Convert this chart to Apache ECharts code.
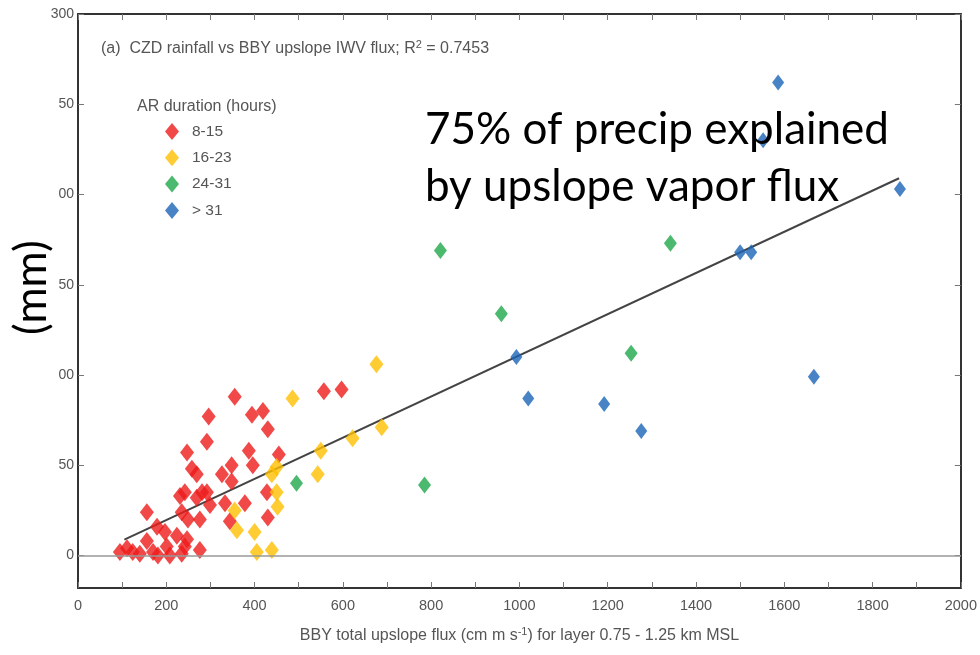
<!DOCTYPE html>
<html><head><meta charset="utf-8">
<script src="https://cdn.jsdelivr.net/npm/echarts@6/dist/echarts.min.js"></script>
<style>html,body{margin:0;padding:0;background:#fff}#c{width:980px;height:655px}</style>
</head><body><div id="c"></div>
<script>
// ---- data (x: BBY upslope flux, y: CZD rainfall mm) ----
const red = [[296,77],[355,88],[394,78],[419,80],[430,70],[292,63],[247,57],[387,58],[455,56],[557,91],[597,92],
  [348,50],[396,50],[258,48],[326,45],[348,41],[292,35],[428,35],[333,29],[378,29],[299,28],[344,19],[430,21],
  [242,35],[281,35],[231,33],[269,32],[156,24],[235,24],[249,20],[276,20],[179,16],[197,13],[224,11],[247,9],
  [156,8],[111,4],[124,2],[140,1],[170,2],[201,5],[181,0],[208,0],[235,1],[242,5],[276,3],[95,2],[269,45]];
const yellow = [[676,106],[486,87],[688,71],[622,65],[550,58],[543,45],[450,49],[439,45],[450,35],[452,27],
  [355,25],[360,14],[400,13],[405,2],[439,3]];
const green = [[821,169],[959,134],[1342,173],[1253,112],[495,40],[785,39]];
const blue = [[1586,262],[1552,230],[1862,203],[1500,168],[1525,168],[993,110],[1020,87],[1192,84],[1276,69],[1667,99]];
const fitLine = [[105,8.8],[1860,209]];
const seriesNames = ['8-15','16-23','24-31','> 31'];
const xTickValues = [0,100,200,300,400,500,600,700,800,900,1000,1100,1200,1300,1400,1500,1600,1700,1800,1900,2000];
const xLabelValues = [0,200,400,600,800,1000,1200,1400,1600,1800,2000];
const yTickValues = [0,50,100,150,200,250,300];
const yTickLabels = ['0','50','00','50','00','50','300'];

const chart = echarts.init(document.getElementById('c'));
const axisCol = '#333';
const lblCol = '#555';
const tickStyle = {show:true, inside:true, length:6, lineStyle:{color:'#777', width:1}};
const colors = ['#ee1a1a','#ffbf00','#1ea84a','#1a64b8'];
const sz = [14,18];
const ff = 'Liberation Sans';
chart.setOption({
  animation:false,
  backgroundColor:'#fff',
  grid:{left:78, right:18, top:14, bottom:67},
  title:[
    {text:'(a)  CZD rainfall vs BBY upslope IWV flux; R{s|2} = 0.7453', left:96, top:34,
     textStyle:{fontFamily:ff, fontSize:16, fontWeight:'normal', color:lblCol,
       rich:{s:{fontFamily:ff, fontSize:11, verticalAlign:'top', padding:[0,0,9,0], color:lblCol}}}},
    {text:'AR duration (hours)', left:132, top:94,
     textStyle:{fontFamily:ff, fontSize:16, fontWeight:'normal', color:lblCol}}
  ],
  legend:{orient:'vertical', left:165, top:123, padding:0, itemGap:9.3, itemWidth:14, itemHeight:17,
    data:seriesNames, textStyle:{fontFamily:ff, fontSize:15.5, color:lblCol, padding:[0,0,0,8]}},
  xAxis:[
    {type:'value', min:0, max:2000, position:'bottom',
     axisLine:{show:true, onZero:false, lineStyle:{color:axisCol, width:2}},
     axisTick:Object.assign({customValues:xTickValues}, tickStyle),
     axisLabel:{customValues:xLabelValues, color:lblCol, fontFamily:ff, fontSize:14.5, margin:10,
       formatter:(v)=>String(v)},
     splitLine:{show:false},
     name:'BBY total upslope flux (cm m s{s|-1}) for layer 0.75 - 1.25 km MSL', nameLocation:'middle', nameGap:38,
     nameTextStyle:{fontFamily:ff, fontSize:16, color:lblCol,
       rich:{s:{fontFamily:ff, fontSize:11, verticalAlign:'top', padding:[0,0,9,0], color:lblCol}}}},
    {type:'value', min:0, max:2000, position:'top',
     axisLine:{show:true, onZero:false, lineStyle:{color:axisCol, width:2}},
     axisTick:Object.assign({customValues:xTickValues}, tickStyle),
     axisLabel:{show:false}, splitLine:{show:false}}
  ],
  yAxis:[
    {type:'value', min:-18, max:300, position:'left',
     axisLine:{show:true, onZero:false, lineStyle:{color:axisCol, width:2}},
     axisTick:Object.assign({customValues:yTickValues}, tickStyle),
     axisLabel:{customValues:yTickValues, color:lblCol, fontFamily:ff, fontSize:14, margin:4,
       formatter:(v)=>yTickLabels[yTickValues.indexOf(v)]},
     splitLine:{show:false}},
    {type:'value', min:-18, max:300, position:'right',
     axisLine:{show:true, onZero:false, lineStyle:{color:axisCol, width:2}},
     axisTick:Object.assign({customValues:yTickValues}, tickStyle),
     axisLabel:{show:false}, splitLine:{show:false}}
  ],
  series:[
    {name:'zero', type:'line', data:[], silent:true,
     markLine:{silent:true, symbol:'none', label:{show:false}, lineStyle:{color:'#999', width:1.5, type:'solid'},
       data:[{yAxis:0}]}},
    {name:'fit', type:'line', data:fitLine, symbol:'none', lineStyle:{color:'#444', width:2}, z:1, silent:true},
    {name:seriesNames[0], type:'scatter', data:red, symbol:'diamond', symbolSize:sz, itemStyle:{color:colors[0]}, z:3},
    {name:seriesNames[1], type:'scatter', data:yellow, symbol:'diamond', symbolSize:sz, itemStyle:{color:colors[1]}, z:3},
    {name:seriesNames[2], type:'scatter', data:green, symbol:'diamond', symbolSize:[13,17], itemStyle:{color:colors[2]}, z:3},
    {name:seriesNames[3], type:'scatter', data:blue, symbol:'diamond', symbolSize:[12,16], itemStyle:{color:colors[3]}, z:3}
  ],
  graphic:[
    {type:'text', left:425, top:101, z:10,
     style:{text:'75% of precip explained\nby upslope vapor flux', fill:'#000', font:'44px Lato', lineHeight:57}},
    {type:'text', x:10, y:335, rotation:Math.PI/2, z:10,
     style:{text:'(mm)', fill:'#000', font:'44px Lato'}}
  ]
});
</script></body></html>
